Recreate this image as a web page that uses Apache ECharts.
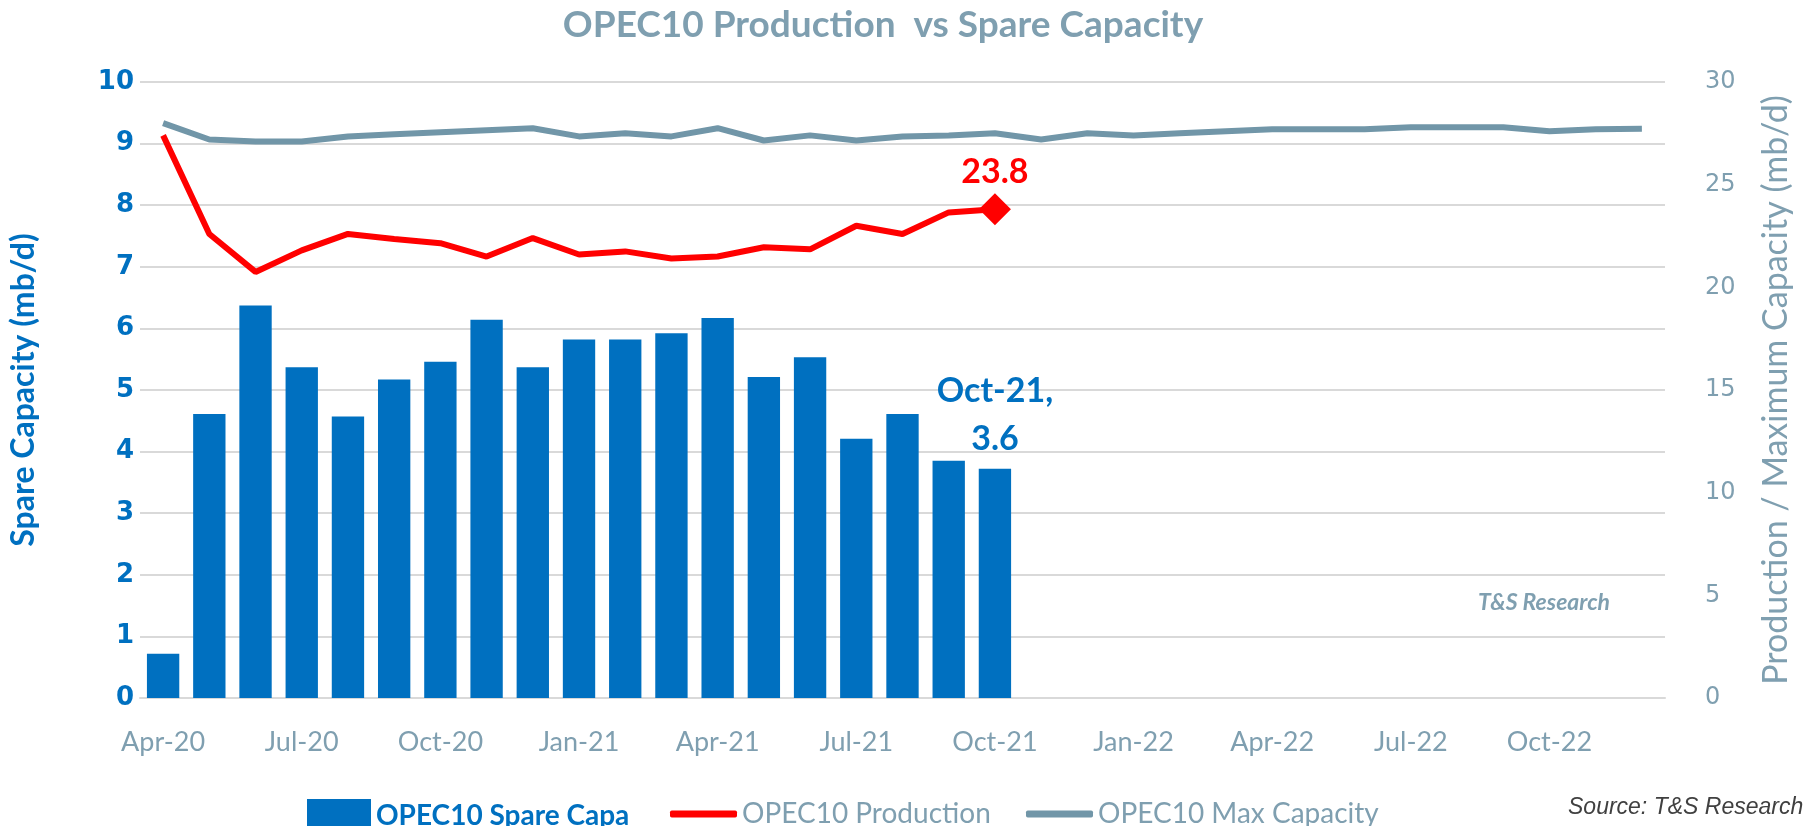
<!DOCTYPE html>
<html>
<head>
<meta charset="utf-8">
<script src="https://cdn.jsdelivr.net/npm/echarts@6/dist/echarts.min.js"></script>
<style>
  html, body { margin: 0; padding: 0; background: #fff; }
  #main { width: 1805px; height: 826px; }
</style>
</head>
<body>
<div id="main"></div>
<script>
// 月份（Apr-20 ~ Dec-22）
const months = [
  'Apr-20', 'May-20', 'Jun-20', 'Jul-20', 'Aug-20', 'Sep-20', 'Oct-20', 'Nov-20', 'Dec-20',
  'Jan-21', 'Feb-21', 'Mar-21', 'Apr-21', 'May-21', 'Jun-21', 'Jul-21', 'Aug-21', 'Sep-21',
  'Oct-21', 'Nov-21', 'Dec-21', 'Jan-22', 'Feb-22', 'Mar-22', 'Apr-22', 'May-22', 'Jun-22',
  'Jul-22', 'Aug-22', 'Sep-22', 'Oct-22', 'Nov-22', 'Dec-22'
];
// 闲置产能 (左轴)
const spareCap = [0.72, 4.61, 6.37, 5.37, 4.57, 5.17, 5.46, 6.14, 5.37, 5.82,
  5.82, 5.92, 6.17, 5.21, 5.53, 4.21, 4.61, 3.85, 3.72];
// 产量 (右轴)
const production = [27.4, 22.6, 20.75, 21.8, 22.6, 22.35, 22.15, 21.5, 22.4, 21.6,
  21.75, 21.4, 21.5, 21.95, 21.85, 23.0, 22.6, 23.65, 23.8];
// 最大产能 (右轴)
const maxCap = [28.0, 27.2, 27.1, 27.1, 27.35, 27.45, 27.55, 27.65, 27.75, 27.35,
  27.5, 27.35, 27.75, 27.15, 27.4, 27.15, 27.35, 27.4, 27.5, 27.2,
  27.5, 27.4, 27.5, 27.6, 27.7, 27.7, 27.7, 27.8, 27.8, 27.8,
  27.6, 27.7, 27.72];
const leftTicks = { min: 0, max: 10, interval: 1 };
const rightTicks = { min: 0, max: 30, interval: 5 };
const lastBarLabel = 'Oct-21,\n3.6';

const blue = '#0070C0';
const red = '#FF0000';
const grey = '#7196A8';
const greyText = '#7F9FB0';

// 最后一个点单独标注
const prodData = production.map((v, i) => i === production.length - 1 ? {
  value: v,
  symbol: 'diamond',
  symbolSize: 32,
  itemStyle: { color: red },
  label: {
    show: true, position: 'top', distance: 4,
    color: red, fontFamily: 'Lato', fontWeight: 'bold', fontSize: 34
  }
} : { value: v, symbol: 'none' });

const spareData = spareCap.map((v, i) => i === spareCap.length - 1 ? {
  value: v,
  label: {
    show: true, position: 'top', distance: 6,
    formatter: lastBarLabel,
    color: blue, fontFamily: 'Lato', fontWeight: 'bold', fontSize: 34, lineHeight: 48
  }
} : v);

const myChart = echarts.init(document.getElementById('main'));
myChart.setOption({
  animation: false,
  title: {
    text: 'OPEC10 Production  vs Spare Capacity',
    left: 878, top: 2, textAlign: 'center',
    textStyle: { color: greyText, fontFamily: 'Lato', fontWeight: 'bold', fontSize: 37 }
  },
  grid: { left: 140, right: 140, top: 82, bottom: 128 },
  legend: [
    {
      left: 302, top: 794, itemWidth: 64, itemHeight: 34, icon: 'rect',
      data: ['OPEC10 Spare Capa'],
      textStyle: { color: blue, fontFamily: 'Lato', fontWeight: 'bold', fontSize: 28 }
    },
    {
      left: 665, top: 795, itemWidth: 67, itemHeight: 7, icon: 'roundRect',
      data: ['OPEC10 Production'],
      textStyle: { color: greyText, fontFamily: 'Lato', fontSize: 28 }
    },
    {
      left: 1021, top: 795, itemWidth: 67, itemHeight: 7, icon: 'roundRect',
      data: ['OPEC10 Max Capacity'],
      textStyle: { color: greyText, fontFamily: 'Lato', fontSize: 28 }
    }
  ],
  xAxis: {
    type: 'category',
    data: months,
    boundaryGap: true,
    axisLine: { lineStyle: { color: '#D9D9D9', width: 2 } },
    axisTick: { interval: 2, length: 8, lineStyle: { color: '#D9D9D9', width: 2 } },
    axisLabel: {
      interval: 2, margin: 31,
      color: greyText, fontFamily: 'Lato', fontSize: 27
    }
  },
  yAxis: [
    {
      type: 'value', ...leftTicks,
      name: 'Spare Capacity (mb/d)', nameLocation: 'middle', nameRotate: 90, nameGap: 100,
      nameTextStyle: { color: blue, fontFamily: 'Lato', fontWeight: 'bold', fontSize: 32 },
      axisLine: { show: false }, axisTick: { show: false },
      splitLine: { lineStyle: { color: '#D9D9D9', width: 2 } },
      axisLabel: { margin: 6, color: blue, fontFamily: 'DejaVu Sans', fontWeight: 'bold', fontSize: 26 }
    },
    {
      type: 'value', ...rightTicks,
      name: 'Production / Maximum Capacity (mb/d)', nameLocation: 'middle', nameRotate: 90, nameGap: 94,
      nameTextStyle: { color: greyText, fontFamily: 'Lato', fontSize: 34 },
      axisLine: { show: false }, axisTick: { show: false },
      splitLine: { show: false },
      axisLabel: { margin: 40, color: greyText, fontFamily: 'DejaVu Sans', fontSize: 24 }
    }
  ],
  series: [
    {
      name: 'OPEC10 Spare Capa',
      type: 'bar',
      yAxisIndex: 0,
      barCategoryGap: '30%',
      itemStyle: { color: blue },
      data: spareData
    },
    {
      name: 'OPEC10 Max Capacity',
      type: 'line',
      yAxisIndex: 1,
      symbol: 'none',
      lineStyle: { color: grey, width: 6 },
      itemStyle: { color: grey },
      data: maxCap
    },
    {
      name: 'OPEC10 Production',
      type: 'line',
      yAxisIndex: 1,
      showSymbol: true,
      symbol: 'none',
      lineStyle: { color: red, width: 6 },
      itemStyle: { color: red },
      data: prodData,
      z: 3
    }
  ],
  graphic: [
    {
      type: 'text', left: 1478, top: 591,
      style: { text: 'T&S Research', fill: greyText, font: 'italic bold 23px Lato' }
    },
    {
      type: 'text', left: 1568, top: 796,
      style: { text: 'Source: T&S Research', fill: '#404040', font: 'italic 23px "Liberation Sans"' }
    }
  ]
});
</script>
</body>
</html>
